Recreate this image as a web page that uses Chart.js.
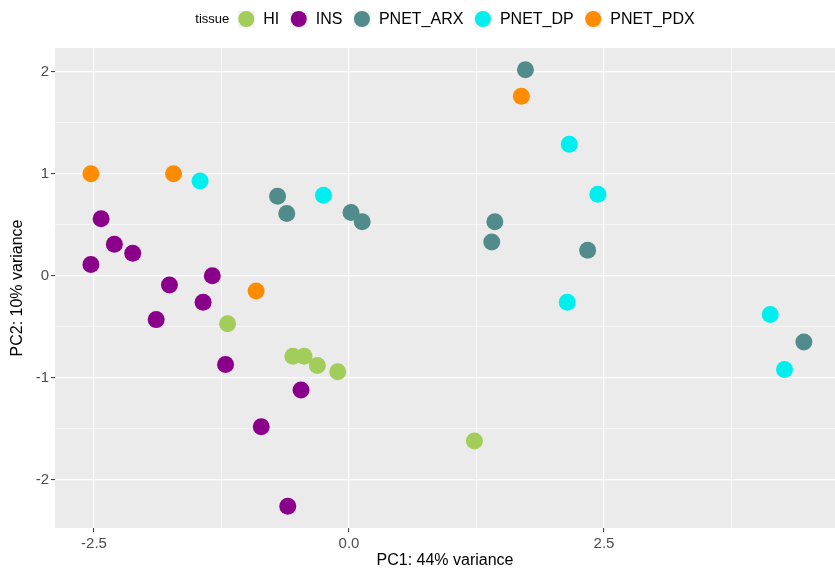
<!DOCTYPE html>
<html>
<head>
<meta charset="utf-8">
<script src="https://cdn.jsdelivr.net/npm/chart.js@4"></script>
<style>
  html, body { margin: 0; padding: 0; background: #fff; }
  canvas { display: block; }
</style>
</head>
<body>
<canvas id="pca" width="835" height="569"></canvas>
<script>
// PCA of samples, PC1 vs PC2, coloured by tissue
const tissues = ['HI', 'INS', 'PNET_ARX', 'PNET_DP', 'PNET_PDX'];
const tissueColors = ['#A2CD5A', '#8B008B', '#528B8B', '#00EEEE', '#FF8C00'];

const hiPC1 = [-1.19, -0.55, -0.44, -0.31, -0.11, 1.23];
const hiPC2 = [-0.47, -0.79, -0.79, -0.88, -0.94, -1.62];

const insPC1 = [-2.43, -2.30, -2.12, -2.53, -1.34, -1.76, -1.43, -1.89, -1.21, -0.47, -0.86, -0.60];
const insPC2 = [0.56, 0.31, 0.22, 0.11, 0.00, -0.09, -0.26, -0.43, -0.87, -1.12, -1.48, -2.26];

const arxPC1 = [1.73, -0.70, -0.61, 0.02, 0.13, 1.43, 1.40, 2.34, 4.46];
const arxPC2 = [2.02, 0.78, 0.61, 0.62, 0.53, 0.53, 0.33, 0.25, -0.65];

const dpPC1 = [-1.46, -0.25, 2.16, 2.44, 2.14, 4.13, 4.27];
const dpPC2 = [0.93, 0.79, 1.29, 0.80, -0.26, -0.38, -0.92];

const pdxPC1 = [-2.53, -1.72, 1.69, -0.91];
const pdxPC2 = [1.00, 1.00, 1.76, -0.15];

const xMajorTicks = [-2.5, 0, 2.5];
const xMinorTicks = [-1.25, 1.25, 3.75];
const yMajorTicks = [-2, -1, 0, 1, 2];
const yMinorTicks = [-1.5, -0.5, 0.5, 1.5];

const xTitle = 'PC1: 44% variance';
const yTitle = 'PC2: 10% variance';
const legendTitle = 'tissue';

const FONT = "'Liberation Sans', Arial, Helvetica, sans-serif";

function pts(xs, ys) { return xs.map((x, i) => ({ x: x, y: ys[i] })); }

const groups = [[hiPC1, hiPC2], [insPC1, insPC2], [arxPC1, arxPC2], [dpPC1, dpPC2], [pdxPC1, pdxPC2]];

const datasets = groups.map((g, i) => ({
  label: tissues[i],
  data: pts(g[0], g[1]),
  backgroundColor: tissueColors[i],
  borderColor: tissueColors[i],
  borderWidth: 0,
  pointRadius: 8.5,
  pointHoverRadius: 8.5
}));

function tickList(major, minor) {
  return major.concat(minor).sort((a, b) => a - b).map(v => ({ value: v }));
}
function isMajor(list, v) { return list.some(m => Math.abs(m - v) < 1e-9); }

function gridFor(major) {
  return {
    color: ctx => '#FFFFFF',
    lineWidth: ctx => isMajor(major, ctx.tick.value) ? 1.2 : 0.6,
    tickColor: ctx => isMajor(major, ctx.tick.value) ? '#333333' : 'rgba(0,0,0,0)',
    tickLength: 4,
    tickWidth: 1,
    drawTicks: true
  };
}

const panelBg = {
  id: 'panelBg',
  beforeDraw(chart) {
    const { ctx, chartArea: a } = chart;
    ctx.save();
    ctx.fillStyle = '#FFFFFF';
    ctx.fillRect(0, 0, chart.width, chart.height);
    ctx.fillStyle = '#EBEBEB';
    ctx.fillRect(a.left, a.top, a.right - a.left, a.bottom - a.top);
    ctx.restore();
  }
};

// ggplot-like legend on top: title + key boxes + labels, centred on panel
const topLegend = {
  id: 'topLegend',
  afterDraw(chart) {
    const { ctx, chartArea: a } = chart;
    const cy = 19, key = 17, keyGap = 8.5, itemGap = 11, titleGap = 8.5;
    ctx.save();
    ctx.textBaseline = 'middle';
    ctx.font = '13px ' + FONT;
    const tW = ctx.measureText(legendTitle).width;
    ctx.font = '16px ' + FONT;
    const widths = tissues.map(t => ctx.measureText(t).width);
    let total = tW + titleGap;
    widths.forEach((w, i) => { total += key + keyGap + w + (i < widths.length - 1 ? itemGap : 0); });
    let x = (a.left + a.right) / 2 - total / 2;
    ctx.fillStyle = '#000';
    ctx.font = '13px ' + FONT;
    ctx.fillText(legendTitle, x, cy);
    x += tW + titleGap;
    ctx.font = '16px ' + FONT;
    tissues.forEach((t, i) => {
      ctx.fillStyle = '#F2F2F2';
      ctx.fillRect(x, cy - key / 2, key, key);
      ctx.fillStyle = tissueColors[i];
      ctx.beginPath();
      ctx.arc(x + key / 2, cy, 8, 0, Math.PI * 2);
      ctx.fill();
      x += key + keyGap;
      ctx.fillStyle = '#000';
      ctx.fillText(t, x, cy + 1);
      x += widths[i] + itemGap;
    });
    ctx.restore();
  }
};

new Chart(document.getElementById('pca'), {
  type: 'scatter',
  data: { datasets },
  plugins: [panelBg, topLegend],
  options: {
    responsive: false,
    animation: false,
    devicePixelRatio: 1,
    layout: { autoPadding: false, padding: { top: 48, right: 0, left: 0, bottom: 0 } },
    plugins: { legend: { display: false }, tooltip: { enabled: false } },
    scales: {
      x: {
        type: 'linear',
        min: -2.882, max: 4.765,
        afterBuildTicks: s => { s.ticks = tickList(xMajorTicks, xMinorTicks); },
        afterFit: s => { s.height = 41; },
        border: { display: false },
        grid: gridFor(xMajorTicks),
        ticks: {
          autoSkip: false, maxRotation: 0, padding: 3,
          color: '#4D4D4D',
          font: { family: FONT, size: 15 },
          callback: v => isMajor(xMajorTicks, v) ? v.toFixed(1) : ''
        },
        title: {
          display: true, text: xTitle, color: '#000',
          font: { family: FONT, size: 16, lineHeight: 1 },
          padding: { top: 0, bottom: 0 }
        }
      },
      y: {
        type: 'linear',
        min: -2.473, max: 2.233,
        afterBuildTicks: s => { s.ticks = tickList(yMajorTicks, yMinorTicks); },
        afterFit: s => { s.width = 55; },
        border: { display: false },
        grid: gridFor(yMajorTicks),
        ticks: {
          autoSkip: false, padding: 2,
          color: '#4D4D4D',
          font: { family: FONT, size: 15 },
          callback: v => isMajor(yMajorTicks, v) ? String(v) : ''
        },
        title: {
          display: true, text: yTitle, color: '#000',
          font: { family: FONT, size: 16, lineHeight: 1 },
          padding: { top: 10, bottom: 0 }
        }
      }
    }
  }
});
</script>
</body>
</html>
